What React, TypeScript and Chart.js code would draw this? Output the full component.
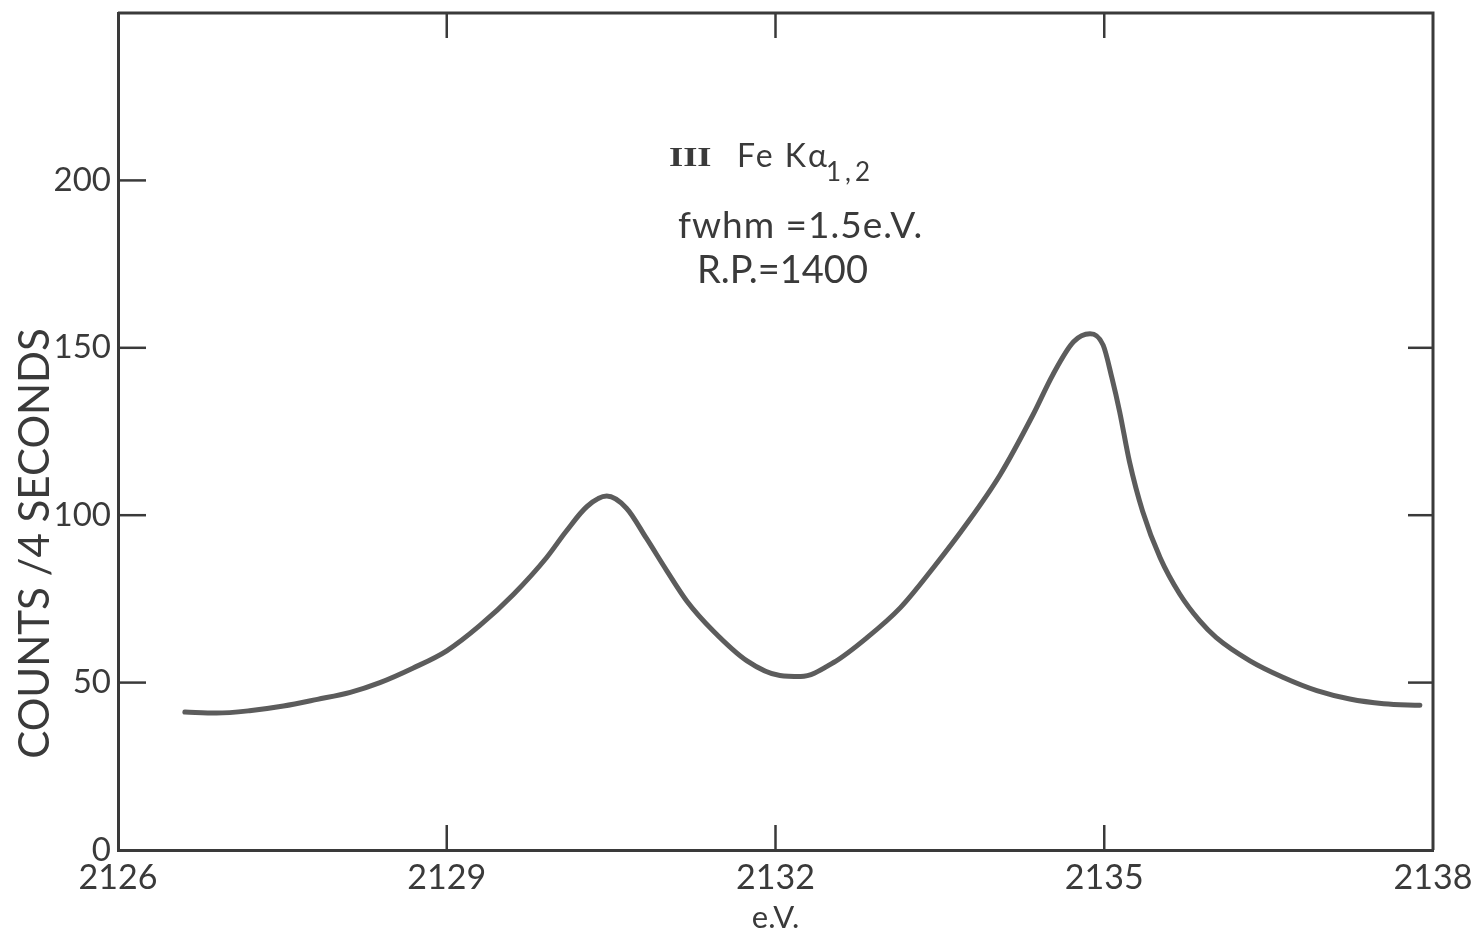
import React, { useEffect, useRef } from "react";
import { Chart, registerables } from "chart.js";

Chart.register(...registerables);

// Measured spectrum: photon energy (eV) and counts per 4 s
const energyEV = [
  2126.61, 2126.9, 2127.2, 2127.51, 2127.82, 2128.12, 2128.39, 2128.69, 2129.0,
  2129.3, 2129.61, 2129.91, 2130.09, 2130.28, 2130.46, 2130.64, 2130.82, 2131.01,
  2131.19, 2131.43, 2131.74, 2132.04, 2132.23, 2132.53, 2132.83, 2133.14, 2133.44,
  2133.74, 2134.05, 2134.35, 2134.53, 2134.72, 2134.87, 2134.99, 2135.07, 2135.14,
  2135.23, 2135.35, 2135.51, 2135.69, 2135.87, 2136.02, 2136.33, 2136.63, 2136.94,
  2137.24, 2137.55, 2137.88,
];
const counts = [
  41.2, 40.9, 41.6, 43.0, 45.0, 47.1, 50.0, 54.3, 59.5,
  67.0, 76.4, 87.3, 95.2, 102.6, 105.7, 102.1, 93.2, 83.3,
  74.4, 65.5, 56.5, 52.1, 51.8, 56.0, 63.3, 72.4, 84.3,
  97.2, 112.1, 130.0, 141.9, 151.8, 154.2, 150.8, 141.0, 131.0,
  116.0, 101.2, 87.3, 76.4, 68.5, 63.5, 56.5, 51.6, 47.6,
  45.1, 43.7, 43.2,
];

const xTickLabels = [2126, 2129, 2132, 2135, 2138];
const yTickLabels = [0, 50, 100, 150, 200];
const leftTicks = [50, 100, 150, 200];
const rightTicks = [50, 100, 150];
const topTicks = [2129, 2132, 2135];
const bottomTicks = [2129, 2132, 2135];

const yTitle = "COUNTS /4 SECONDS";
const xTitle = "e.V.";
const lineNumeral = "III";
const lineLabel = "Fe Kα";
const lineSub = "1,2";
const fwhmText = "fwhm =1.5e.V.";
const rpText = "R.P.=1400";

const INK = "#3a3a3a";
const CURVE = "#5c5c5c";
const FONT = "Lato, 'Open Sans', sans-serif";

// Frame, inward tick marks and the text annotations
const framePlugin = {
  id: "frame",
  afterDraw(chart: any) {
    const { ctx, chartArea, scales } = chart;
    const { left, right, top, bottom } = chartArea;
    const x = scales.x;
    const y = scales.y;
    ctx.save();
    ctx.strokeStyle = INK;
    ctx.lineWidth = 3;
    ctx.beginPath();
    ctx.moveTo(left, top);
    ctx.lineTo(right, top);
    ctx.lineTo(right, bottom);
    ctx.stroke();

    const seg = (x1: number, y1: number, x2: number, y2: number) => {
      ctx.beginPath();
      ctx.moveTo(x1, y1);
      ctx.lineTo(x2, y2);
      ctx.stroke();
    };
    ctx.lineWidth = 2.5;
    leftTicks.forEach((v) => {
      const py = y.getPixelForValue(v);
      seg(left, py, left + 28, py);
    });
    rightTicks.forEach((v) => {
      const py = y.getPixelForValue(v);
      seg(right - 25, py, right, py);
    });
    topTicks.forEach((v) => {
      const px = x.getPixelForValue(v);
      seg(px, top, px, top + 25);
    });
    bottomTicks.forEach((v) => {
      const px = x.getPixelForValue(v);
      seg(px, bottom - 25, px, bottom);
    });

    ctx.fillStyle = INK;
    ctx.textBaseline = "alphabetic";

    // vertical axis title
    ctx.save();
    ctx.translate(left - 83, (top + bottom) / 2 + 112);
    ctx.rotate(-Math.PI / 2);
    ctx.font = `42px ${FONT}`;
    ctx.textAlign = "center";
    ctx.textBaseline = "middle";
    ctx.fillText(yTitle, 0, 0);
    ctx.restore();

    // line identification
    ctx.textAlign = "left";
    ctx.save();
    ctx.translate(left + 551, top + 153);
    ctx.scale(1.3, 1);
    ctx.font = `bold 28px "Liberation Serif", "DejaVu Serif", serif`;
    ctx.fillText(lineNumeral, 0, 0);
    ctx.restore();

    (ctx as any).letterSpacing = "2px";
    ctx.font = `32px ${FONT}`;
    ctx.fillText(lineLabel, left + 619, top + 154);
    (ctx as any).letterSpacing = "4px";
    ctx.font = `26px ${FONT}`;
    ctx.fillText(lineSub, left + 708, top + 168);

    (ctx as any).letterSpacing = "1px";
    ctx.font = `37px ${FONT}`;
    ctx.fillText(fwhmText, left + 560, top + 225);
    (ctx as any).letterSpacing = "0px";
    ctx.font = `38px ${FONT}`;
    ctx.fillText(rpText, left + 579, top + 270);
    ctx.restore();
  },
};

export default function App() {
  const ref = useRef<HTMLCanvasElement>(null);

  useEffect(() => {
    document.body.style.margin = "0";
    const canvas = ref.current;
    if (!canvas) return;
    const points = energyEV.map((e, i) => ({ x: e, y: counts[i] }));
    const chart = new Chart(canvas, {
      type: "line",
      data: {
        datasets: [
          {
            data: points,
            borderColor: CURVE,
            borderWidth: 5,
            pointRadius: 0,
            cubicInterpolationMode: "monotone",
            borderCapStyle: "round",
            borderJoinStyle: "round",
            fill: false,
          },
        ],
      },
      options: {
        responsive: false,
        animation: false,
        devicePixelRatio: 1,
        layout: { padding: { left: 0, top: 13, right: 48, bottom: 0 } },
        plugins: {
          legend: { display: false },
          tooltip: { enabled: false },
        },
        scales: {
          x: {
            type: "linear",
            min: 2126,
            max: 2138,
            afterBuildTicks: (s: any) => {
              s.ticks = xTickLabels.map((v) => ({ value: v }));
            },
            afterFit: (s: any) => {
              s.height = 84;
            },
            grid: { display: false, drawTicks: false },
            border: { display: true, color: INK, width: 3 },
            ticks: {
              color: INK,
              padding: 8,
              maxRotation: 0,
              autoSkip: false,
              font: { family: FONT, size: 34 },
              callback: (v: any) => String(v),
            },
            title: {
              display: true,
              text: xTitle,
              color: INK,
              font: { family: FONT, size: 31 },
              padding: { top: 0, bottom: -3 },
            },
          },
          y: {
            type: "linear",
            min: 0,
            max: 250,
            afterBuildTicks: (s: any) => {
              s.ticks = yTickLabels.map((v) => ({ value: v }));
            },
            afterFit: (s: any) => {
              s.width = 118;
              s.paddingTop = 0;
              s.paddingBottom = 0;
            },
            grid: { display: false, drawTicks: false },
            border: { display: true, color: INK, width: 3 },
            ticks: {
              color: INK,
              padding: 7,
              autoSkip: false,
              font: { family: FONT, size: 33 },
              callback: (v: any) => String(v),
            },
          },
        },
      },
      plugins: [framePlugin],
    });
    return () => chart.destroy();
  }, []);

  return (
    <div style={{ width: 1481, height: 934, background: "#fff" }}>
      <canvas ref={ref} width={1481} height={934} style={{ display: "block" }} />
    </div>
  );
}
